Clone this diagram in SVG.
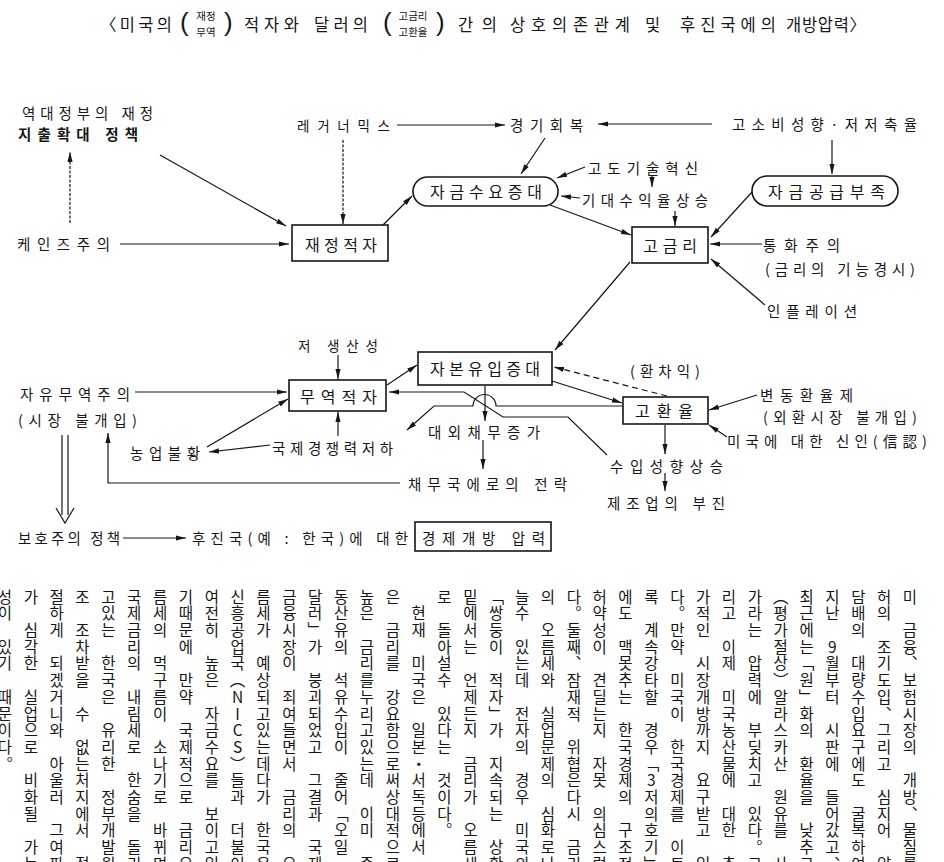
<svg xmlns="http://www.w3.org/2000/svg" width="944" height="862" viewBox="0 0 944 862">
<style>
.t{font-family:"Noto Sans CJK KR","Noto Sans CJK SC",sans-serif;fill:#161616;font-size:14.5px;dominant-baseline:central}
.b{font-size:16px}
.s{font-size:10.5px}
.tt{font-size:16.5px}
.p{font-family:"Liberation Sans",sans-serif;font-size:26px;fill:#161616;dominant-baseline:central}
.bd{font-weight:bold}
.box{fill:#fff;stroke:#161616;stroke-width:1.6}
.ln{fill:none;stroke:#161616;stroke-width:1.2}
.ar{marker-end:url(#ah)}
.dash{stroke-dasharray:6 4}
.dot{stroke-dasharray:3 1.5}
.v{font-family:"Noto Sans CJK KR",sans-serif;font-size:15.5px;fill:#161616;writing-mode:vertical-rl;text-orientation:upright;letter-spacing:1.2px}
</style>
<defs>
<marker id="ah" viewBox="0 0 10 6" refX="10" refY="3" markerWidth="10" markerHeight="6" markerUnits="userSpaceOnUse" orient="auto"><path d="M0,0.4 L10,3 L0,5.6 z" fill="#161616"/></marker>
</defs>
<rect width="944" height="862" fill="#fff"/>

<g id="title">
<text class="t tt" x="100" y="24" textLength="72" lengthAdjust="spacing">〈미국의</text>
<text class="p" x="180" y="22">(</text>
<text class="t s" x="206" y="15" text-anchor="middle">재정</text>
<text class="t s" x="206" y="31" text-anchor="middle">무역</text>
<text class="p" x="224" y="22">)</text>
<text class="t tt" x="244" y="24" textLength="55" lengthAdjust="spacing">적자와</text>
<text class="t tt" x="314" y="24" textLength="54" lengthAdjust="spacing">달러의</text>
<text class="p" x="383" y="22">(</text>
<text class="t s" x="413" y="15" text-anchor="middle">고금리</text>
<text class="t s" x="413" y="31" text-anchor="middle">고환율</text>
<text class="p" x="436" y="22">)</text>
<text class="t tt" x="458" y="24" textLength="39" lengthAdjust="spacing">간의</text>
<text class="t tt" x="510" y="24" textLength="120" lengthAdjust="spacing">상호의존관계</text>
<text class="t tt" x="645" y="24">및</text>
<text class="t tt" x="680" y="24" textLength="96" lengthAdjust="spacing">후진국에의</text>
<text class="t tt" x="786" y="24" textLength="80" lengthAdjust="spacing">개방압력〉</text>
</g>

<g id="connectors">
<path class="ln ar" d="M160,155 L286,226"/>
<path class="ln ar dot" d="M70,223 L70,152"/>
<path class="ln ar" d="M120,244 L289,244"/>
<path class="ln ar dot" d="M343,140 L343,224"/>
<path class="ln ar" d="M397,125 L505,125"/>
<path class="ln ar" d="M383,225 L412,196"/>
<path class="ln ar" d="M545,138 L521,174"/>
<path class="ln ar" d="M585,167 L557,178"/>
<path class="ln ar" d="M652,175 L652,187"/>
<path class="ln ar" d="M580,198 L561,196"/>
<path class="ln ar" d="M675,211 L675,226"/>
<path class="ln ar" d="M550,205 L631,235"/>
<path class="ln ar" d="M712,124 L598,124"/>
<path class="ln ar" d="M832,140 L832,174"/>
<path class="ln ar" d="M752,192 L711,237"/>
<path class="ln ar" d="M762,244 L710,244"/>
<path class="ln ar" d="M765,305 L711,259"/>
<path class="ln ar" d="M630,262 L555,350"/>
<path class="ln ar" d="M338,355 L338,379"/>
<path class="ln ar" d="M135,392 L287,392"/>
<path class="ln ar" d="M207,447 L288,399"/>
<path class="ln ar" d="M270,445 L209,452"/>
<path class="ln ar" d="M338,436 L338,412"/>
<path class="ln ar" d="M387,385 L417,365"/>
<path class="ln ar" d="M552,381 L622,403"/>
<path class="ln ar dash" d="M667,396 L554,367"/>
<path class="ln ar" d="M485,386 L485,421"/>
<path class="ln ar" d="M623,406 L496,406 A11.5,11.5 0 0 0 473,406 L434,406 L407,430"/>
<path class="ln ar" d="M607,455 L568,417 L503,417 L464,392 L389,392"/>
<path class="ln ar" d="M757,395 L709,410"/>
<path class="ln ar" d="M727,437 L709,425"/>
<path class="ln ar" d="M665,425 L665,454"/>
<path class="ln ar" d="M665,473 L665,491"/>
<path class="ln ar" d="M483,440 L483,469"/>
<path class="ln ar" d="M400,483 L108,483 L108,433"/>
<path class="ln" d="M62,435 V515 M68,435 V515 M56,508 L65,523 L74,508"/>
<path class="ln ar" d="M123,538 L186,538"/>
</g>

<g id="n-policy">
<text class="t" x="22" y="112" textLength="131" lengthAdjust="spacing">역대정부의 재정</text>
<text class="t bd" x="18" y="133" textLength="120" lengthAdjust="spacing">지출확대 정책</text>
</g>
<g id="n-keynes"><text class="t" x="17" y="243" textLength="93" lengthAdjust="spacing">케인즈주의</text></g>
<g id="n-reaganomics"><text class="t" x="297" y="125" style="font-size:13.5px" textLength="93" lengthAdjust="spacing">레거너믹스</text></g>
<g id="n-recovery"><text class="t" x="510" y="124" textLength="73" lengthAdjust="spacing">경기회복</text></g>
<g id="n-consumption"><text class="t" x="732" y="123" textLength="185" lengthAdjust="spacing">고소비성향·저저축율</text></g>
<g id="n-tech"><text class="t" x="588" y="167" textLength="110" lengthAdjust="spacing">고도기술혁신</text></g>
<g id="n-expected"><text class="t" x="582" y="199" textLength="126" lengthAdjust="spacing">기대수익율상승</text></g>
<g id="n-demand">
<rect class="box" x="413" y="177" width="145" height="29" rx="14.5"/>
<text class="t b" x="430" y="191" textLength="112" lengthAdjust="spacing">자금수요증대</text>
</g>
<g id="n-supply">
<rect class="box" x="752" y="176" width="146" height="30" rx="15"/>
<text class="t b" x="768" y="191" textLength="117" lengthAdjust="spacing">자금공급부족</text>
</g>
<g id="n-fiscal">
<rect class="box" x="292" y="225" width="96" height="36"/>
<text class="t b" x="305" y="244" textLength="72" lengthAdjust="spacing">재정적자</text>
</g>
<g id="n-highrate">
<rect class="box" x="632" y="227" width="76" height="36"/>
<text class="t b" x="643" y="245" textLength="54" lengthAdjust="spacing">고금리</text>
</g>
<g id="n-monetarism">
<text class="t" x="763" y="244" textLength="77" lengthAdjust="spacing">통화주의</text>
<text class="t" x="765" y="268" textLength="150" lengthAdjust="spacing">(금리의 기능경시)</text>
</g>
<g id="n-inflation"><text class="t" x="767" y="310" textLength="90" lengthAdjust="spacing">인플레이션</text></g>
<g id="n-lowprod"><text class="t" x="298" y="345" style="font-size:13.5px" textLength="80" lengthAdjust="spacing">저 생산성</text></g>
<g id="n-capital">
<rect class="box" x="418" y="352" width="134" height="33"/>
<text class="t b" x="430" y="368" textLength="110" lengthAdjust="spacing">자본유입증대</text>
</g>
<g id="n-fxgain"><text class="t" x="630" y="370" textLength="70" lengthAdjust="spacing">(환차익)</text></g>
<g id="n-trade">
<rect class="box" x="289" y="380" width="97" height="31"/>
<text class="t b" x="300" y="396" textLength="77" lengthAdjust="spacing">무역적자</text>
</g>
<g id="n-freetrade">
<text class="t" x="20" y="393" textLength="110" lengthAdjust="spacing">자유무역주의</text>
<text class="t" x="18" y="419" textLength="119" lengthAdjust="spacing">(시장 불개입)</text>
</g>
<g id="n-floating">
<text class="t" x="760" y="394" textLength="93" lengthAdjust="spacing">변동환율제</text>
<text class="t" x="763" y="416" textLength="154" lengthAdjust="spacing">(외환시장 불개입)</text>
</g>
<g id="n-highfx">
<rect class="box" x="623" y="397" width="85" height="27"/>
<text class="t b" x="635" y="410" textLength="58" lengthAdjust="spacing">고환율</text>
</g>
<g id="n-trust"><text class="t" x="727" y="440" textLength="200" lengthAdjust="spacing">미국에 대한 신인(信認)</text></g>
<g id="n-debt"><text class="t" x="428" y="431" textLength="112" lengthAdjust="spacing">대외채무증가</text></g>
<g id="n-agri"><text class="t" x="130" y="452" textLength="70" lengthAdjust="spacing">농업불황</text></g>
<g id="n-compet"><text class="t" x="272" y="447" textLength="121" lengthAdjust="spacing">국제경쟁력저하</text></g>
<g id="n-import"><text class="t" x="610" y="465" textLength="113" lengthAdjust="spacing">수입성향상승</text></g>
<g id="n-debtor"><text class="t" x="408" y="483" textLength="159" lengthAdjust="spacing">채무국에로의 전락</text></g>
<g id="n-manuf"><text class="t" x="607" y="502" textLength="118" lengthAdjust="spacing">제조업의 부진</text></g>
<g id="n-protect"><text class="t" x="18" y="537" textLength="102" lengthAdjust="spacing">보호주의 정책</text></g>
<g id="n-developing"><text class="t" x="192" y="537" textLength="216" lengthAdjust="spacing">후진국(예 : 한국)에 대한</text></g>
<g id="n-pressure">
<rect class="box" x="415" y="522" width="136" height="29"/>
<text class="t" x="422" y="537" textLength="123" lengthAdjust="spacing">경제개방 압력</text>
</g>

<g id="body-text">
<text class="v" x="910" y="589">미　금융︑보험시장의　개방︑물질를</text>
<text class="v" x="884.1" y="589">허의　조기도입︑그리고　심지어　약</text>
<text class="v" x="858.3" y="589">담배의　대량수입요구에도　굴복하여</text>
<text class="v" x="832.4" y="589">지난　9월부터　시판에　들어갔고︑</text>
<text class="v" x="806.6" y="589">최근에는﹁원﹂화의　환율을　낮추고</text>
<text class="v" x="780.7" y="589">︵평가절상︶알라스카산　원유를　사</text>
<text class="v" x="754.8" y="589">가라는　압력에　부딪치고　있다︒그</text>
<text class="v" x="729" y="589">리고　이제　미국농산물에　대한　추</text>
<text class="v" x="703.1" y="589">가적인　시장개방까지　요구받고　있</text>
<text class="v" x="677.3" y="589">다︒만약　미국이　한국경제를　이토</text>
<text class="v" x="651.4" y="589">록　계속강타할　경우﹁3저의호기﹂</text>
<text class="v" x="625.5" y="589">에도　맥못추는　한국경제의　구조적</text>
<text class="v" x="599.7" y="589">허약성이　견딜는지　자못　의심스럽</text>
<text class="v" x="573.8" y="589">다︒둘째︑잠재적　위협은다시　금리</text>
<text class="v" x="548" y="589">의　오름세와　실업문제의　심화로나</text>
<text class="v" x="522.1" y="589">늘수　있는데　전자의　경우　미국의</text>
<text class="v" x="496.2" y="589">﹁쌍둥이　적자﹂가　지속되는　상황</text>
<text class="v" x="470.4" y="589">밑에서는　언제든지　금리가　오름세</text>
<text class="v" x="444.5" y="589">로　돌아설수　있다는　것이다︒</text>
<text class="v" x="418.7" y="589">　현재　미국은　일본・서독등에서　낮</text>
<text class="v" x="392.8" y="589">은　금리를　강요함으로써상대적으로</text>
<text class="v" x="366.9" y="589">높은　금리를누리고있는데　이미　중</text>
<text class="v" x="341.1" y="589">동산유의　석유수입이　줄어﹁오일・</text>
<text class="v" x="315.2" y="589">달러﹂가　붕괴되었고　그결과　국제</text>
<text class="v" x="289.4" y="589">금융시장이　죄여들면서　금리의　오</text>
<text class="v" x="263.5" y="589">름세가　예상되고있는데다가　한국은</text>
<text class="v" x="237.6" y="589">신흥공업국︵NICS︶들과　더불어</text>
<text class="v" x="211.8" y="589">여전히　높은　자금수요를　보이고있</text>
<text class="v" x="185.9" y="589">기때문에　만약　국제적으로　금리오</text>
<text class="v" x="160.1" y="589">름세의　먹구름이　소나기로　바뀌면</text>
<text class="v" x="134.2" y="589">국제금리의　내림세로　한숨을　돌리</text>
<text class="v" x="108.3" y="589">고있는　한국은　유리한　정부개발원</text>
<text class="v" x="82.5" y="589">조　조차받을　수　없는처지에서　점</text>
<text class="v" x="56.6" y="589">절하게　되겠거니와　아울러　그여파</text>
<text class="v" x="30.8" y="589">가　심각한　실업으로　비화될　가능</text>
<text class="v" x="4.9" y="589">성이　있기　때문이다︒</text>
</g>
</svg>
